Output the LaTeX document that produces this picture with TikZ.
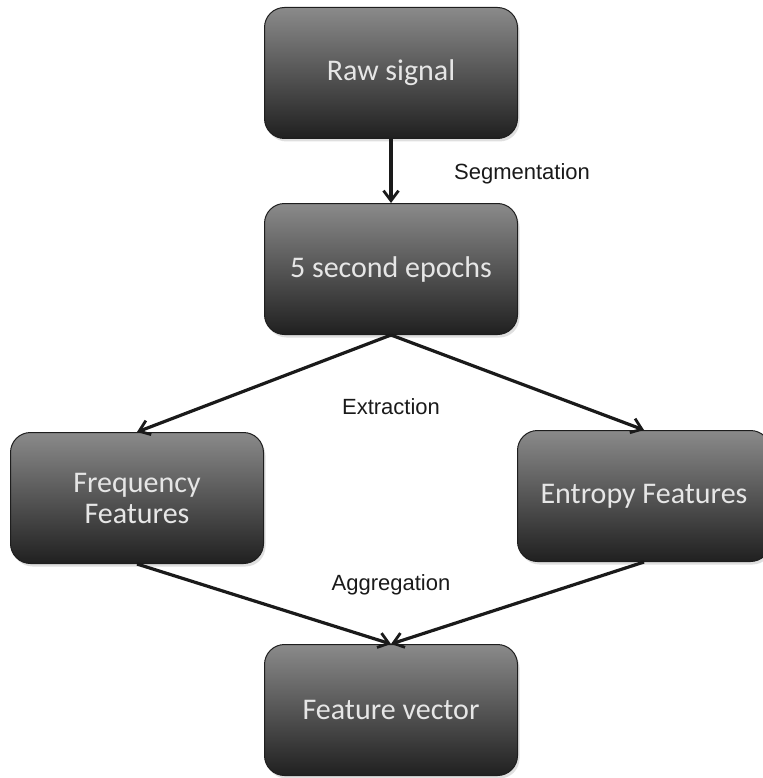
\documentclass[tikz,border=0pt]{standalone}
\usepackage{fontspec}
\setmainfont{Carlito}
\newfontfamily\labelfont{Liberation Sans}
\usepackage{tikz}
\usetikzlibrary{arrows.meta,positioning,shadows}
\definecolor{FSTop}{HTML}{8A8A8A}
\definecolor{FSBottom}{HTML}{202020}
\definecolor{FSEdge}{HTML}{1E1E1E}
\definecolor{FSText}{HTML}{E6E6E6}
\definecolor{FSInk}{HTML}{1A1A1A}
\tikzset{
  >={Straight Barb[length=10pt,width=15pt,line width=2.8pt]},
  fsbox/.style={rounded corners=20pt, draw=FSEdge, line width=1pt,
    top color=FSTop, bottom color=FSBottom, text=FSText,
    align=center, minimum width=253pt, minimum height=131pt,
    font=\fontsize{30}{31}\selectfont, inner sep=0pt,
    drop shadow={opacity=0.25, shadow xshift=2pt, shadow yshift=-3pt}},
  fslabel/.style={font=\labelfont\fontsize{22}{26}\selectfont, text=FSInk},
  fsarrow/.style={->, line width=3.2pt, draw=FSInk}
}
\begin{document}
\begin{tikzpicture}[x=1pt, y=-1pt, node distance=64pt and 0pt]
  \useasboundingbox (0,0) rectangle (762,778);

  \node[fsbox] (raw) at (391,73) {Raw signal};
  \node[fsbox, below=of raw] (epochs) {5 second epochs};

  \node[fsbox, below left=97pt and 0pt of epochs.south west, anchor=north east]
    (freq) {Frequency\\Features};
  \node[fsbox, below right=95pt and -1pt of epochs.south east, anchor=north west]
    (entropy) {Entropy Features};
  \node[fsbox, below right=80pt and 0pt of freq.south east, anchor=north west]
    (vector) {Feature vector};

  \node[fslabel] (segm) at (522,174) {Segmentation};
  \node[fslabel] (extr) at (391,407) {Extraction};
  \node[fslabel] (aggr) at (391,585) {Aggregation};

  \draw[fsarrow] (raw)--(epochs);
  \draw[fsarrow] (epochs.south)--(freq.north);
  \draw[fsarrow] (epochs.south)--(entropy.north);
  \draw[fsarrow] (freq.south)--(vector.north);
  \draw[fsarrow] (entropy.south)--(vector.north);
\end{tikzpicture}
\end{document}
